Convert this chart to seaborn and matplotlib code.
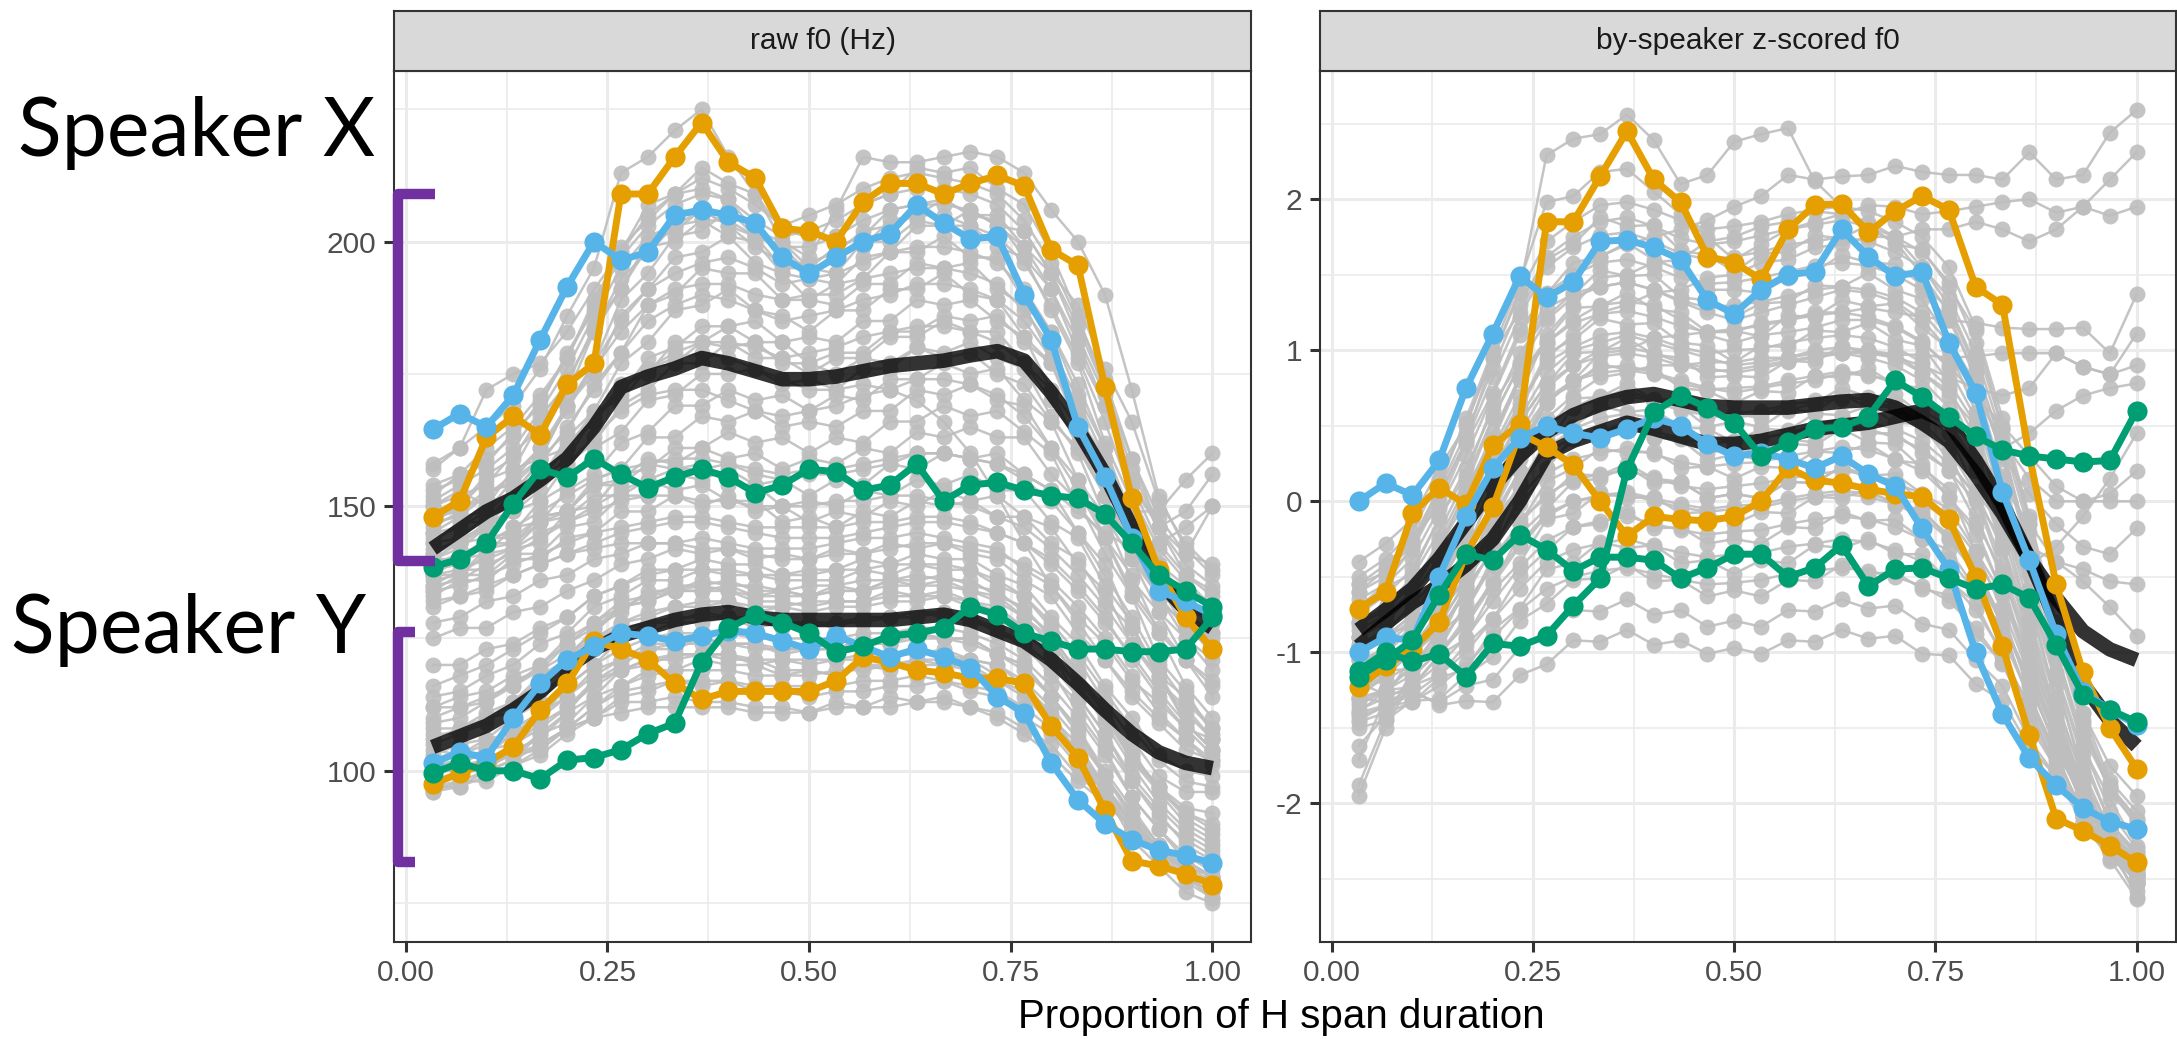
import numpy as np
import pandas as pd
import matplotlib
matplotlib.use("Agg")
import matplotlib.pyplot as plt
from matplotlib.lines import Line2D
import seaborn as sns

# ---------------------------------------------------------------- data
# normalised time points within the H span (30 samples)
PROPORTION = [0.0333, 0.0667, 0.1, 0.1333, 0.1667, 0.2, 0.2333, 0.2667, 0.3, 0.3333,
              0.3667, 0.4, 0.4333, 0.4667, 0.5, 0.5333, 0.5667, 0.6, 0.6333, 0.6667,
              0.7, 0.7333, 0.7667, 0.8, 0.8333, 0.8667, 0.9, 0.9333, 0.9667, 1.0]

PANELS = ["raw f0 (Hz)", "by-speaker z-scored f0"]

# highlighted utterances, raw f0 (Hz)
RAW_X_ORANGE = [148, 151, 163, 167, 163.5, 173, 177, 209, 209, 216, 222.5, 215, 212, 202.5, 202,
                200, 207.5, 211, 211, 209, 211, 212.5, 210.5, 198.5, 195.5, 172.5, 151.5, 138, 129, 123]
RAW_X_BLUE = [164.5, 167.5, 165, 171, 181.5, 191.5, 200, 196.5, 198, 205, 206, 205, 203.5, 197, 194,
              197, 200, 201.5, 207, 203.5, 200.5, 201, 190, 181.5, 165, 155.5, 144, 134, 132, 129.5]
RAW_X_GREEN = [138.5, 140, 143, 150.5, 157, 155.5, 159, 156, 153.5, 155.5, 157, 155.5, 152.5, 154, 157,
               156.5, 153, 154, 158, 151, 154, 154.5, 153, 152, 151.5, 148.5, 143, 137, 134, 131]
RAW_Y_ORANGE = [97.5, 99.5, 101.5, 104.5, 111.5, 116.5, 124.5, 123, 121, 116.5, 113.5, 115, 115, 115, 115,
                117, 121.5, 120.5, 119, 118.5, 117.5, 117.5, 116.5, 108.5, 102.5, 92.5, 83, 82, 80.5, 78.5]
RAW_Y_BLUE = [101.5, 103.5, 102.5, 110, 116.5, 121, 123.5, 126, 125.5, 124.5, 125.5, 126.5, 126, 124.5, 123,
              125.5, 123.5, 121.5, 123, 121.5, 119.5, 114, 111, 101.5, 94.5, 90, 87, 85, 84, 82.5]
RAW_Y_GREEN = [99.5, 101.5, 100, 100, 98.5, 102, 102.5, 104, 107, 109, 120.5, 127, 129.5, 128, 126,
               122.5, 123.5, 125.5, 126, 127, 131, 129.5, 126, 124.5, 123, 123, 122.5, 122.5, 123, 129]

# by-speaker smooths, raw f0 (Hz)
RAW_X_SMOOTH = [142, 145.5, 149, 151.5, 155, 159, 165, 172.5, 174.5, 176, 178, 177, 175.5, 174, 174,
                174.5, 175.5, 176.5, 177, 177.5, 178.5, 179.3, 177.5, 171.5, 164.5, 156, 146, 136, 130.5, 127]
RAW_Y_SMOOTH = [104.5, 106.5, 108.5, 111.5, 115, 119.5, 123, 125.5, 127, 128.5, 129.5, 130, 129, 128.5, 128.5,
                128.5, 128.5, 128.5, 129, 129.5, 128.5, 126.5, 124.5, 121, 116.5, 111.5, 107, 103.5, 101.5, 100.5]

# highlighted utterances, z-scored f0
Z_X_ORANGE = [-0.71, -0.6, -0.08, 0.09, -0.02, 0.37, 0.51, 1.85, 1.85, 2.15, 2.45, 2.13, 1.98, 1.62, 1.58,
              1.47, 1.8, 1.96, 1.97, 1.78, 1.92, 2.02, 1.93, 1.42, 1.3, 0.3, -0.55, -1.13, -1.5, -1.77]
Z_X_BLUE = [0.0, 0.12, 0.04, 0.27, 0.75, 1.11, 1.49, 1.35, 1.45, 1.72, 1.73, 1.68, 1.6, 1.33, 1.24,
            1.4, 1.5, 1.52, 1.8, 1.62, 1.49, 1.52, 1.05, 0.72, 0.06, -0.39, -0.88, -1.26, -1.38, -1.48]
Z_X_GREEN = [-1.16, -1.05, -0.92, -0.62, -0.35, -0.39, -0.22, -0.32, -0.46, -0.37, -0.37, -0.39, -0.51, -0.44, -0.35,
             -0.35, -0.5, -0.44, -0.29, -0.56, -0.45, -0.44, -0.51, -0.58, -0.55, -0.64, -0.95, -1.28, -1.38, -1.46]
Z_Y_ORANGE = [-1.23, -1.09, -0.98, -0.8, -0.35, -0.04, 0.45, 0.36, 0.24, 0.0, -0.23, -0.1, -0.12, -0.13, -0.1,
              0.0, 0.22, 0.14, 0.12, 0.08, 0.05, 0.03, -0.12, -0.5, -0.96, -1.55, -2.1, -2.18, -2.28, -2.39]
Z_Y_BLUE = [-1.0, -0.9, -0.92, -0.5, -0.1, 0.22, 0.42, 0.5, 0.45, 0.42, 0.48, 0.55, 0.5, 0.38, 0.3,
            0.32, 0.28, 0.22, 0.3, 0.18, 0.1, -0.18, -0.45, -1.0, -1.41, -1.7, -1.88, -2.03, -2.12, -2.17]
Z_Y_GREEN = [-1.12, -1.0, -1.06, -1.01, -1.16, -0.94, -0.96, -0.89, -0.69, -0.51, 0.21, 0.59, 0.7, 0.62, 0.52,
             0.3, 0.39, 0.48, 0.49, 0.56, 0.8, 0.69, 0.56, 0.43, 0.34, 0.3, 0.28, 0.26, 0.27, 0.6]

# by-speaker smooths, z-scored f0
Z_X_SMOOTH = [-0.96, -0.81, -0.67, -0.56, -0.42, -0.25, 0.0, 0.31, 0.4, 0.46, 0.52, 0.48, 0.43, 0.38, 0.38,
              0.4, 0.44, 0.48, 0.5, 0.52, 0.56, 0.6, 0.52, 0.27, -0.02, -0.38, -0.79, -1.21, -1.45, -1.62]
Z_Y_SMOOTH = [-0.85, -0.72, -0.58, -0.38, -0.14, 0.1, 0.3, 0.46, 0.57, 0.64, 0.69, 0.71, 0.67, 0.63, 0.62,
              0.62, 0.62, 0.64, 0.66, 0.67, 0.62, 0.52, 0.4, 0.18, -0.08, -0.38, -0.64, -0.86, -0.98, -1.05]

# all other utterances, raw f0 (Hz)
RAW_OTHERS = [
    [158, 161, 165, 169, 176, 186, 195, 213, 216, 221, 225, 216, 209, 200, 197, 206, 216, 215, 215, 216, 217, 216, 213, 206, 200, 190, 172, 152, 142, 137],
    [152, 156, 158, 164, 169, 179, 187, 199, 204, 209, 210, 208, 202, 200, 195, 199, 201, 206, 207, 208, 205, 205, 199, 194, 182, 171, 155, 146, 137, 134],
    [148, 150, 155, 157, 166, 171, 183, 191, 200, 202, 206, 203, 201, 195, 195, 194, 200, 200, 204, 203, 203, 199, 197, 187, 177, 162, 151, 139, 135, 130],
    [150, 153, 150, 157, 159, 169, 175, 186, 191, 197, 198, 201, 196, 194, 189, 192, 193, 198, 198, 201, 197, 197, 189, 183, 171, 161, 147, 139, 131, 128],
    [145, 146, 151, 152, 159, 164, 173, 179, 188, 190, 195, 194, 194, 189, 189, 188, 192, 192, 196, 195, 196, 191, 188, 178, 169, 155, 145, 134, 129, 125],
    [143, 147, 147, 153, 155, 163, 168, 177, 181, 187, 188, 191, 187, 186, 183, 187, 187, 191, 191, 194, 190, 189, 182, 177, 165, 156, 142, 135, 127, 124],
    [142, 143, 147, 149, 155, 159, 167, 171, 178, 180, 184, 184, 185, 181, 182, 181, 185, 185, 189, 188, 189, 185, 182, 172, 165, 152, 143, 132, 128, 122],
    [140, 143, 144, 149, 151, 158, 162, 169, 172, 177, 177, 181, 178, 178, 175, 178, 178, 182, 182, 185, 183, 183, 177, 172, 161, 152, 140, 133, 125, 121],
    [138, 140, 144, 145, 151, 154, 161, 164, 170, 171, 175, 175, 176, 173, 174, 172, 176, 176, 180, 179, 181, 178, 176, 167, 160, 148, 140, 130, 125, 119],
    [137, 140, 141, 146, 147, 153, 156, 162, 164, 169, 169, 172, 170, 171, 168, 171, 170, 174, 174, 177, 175, 176, 170, 166, 155, 148, 136, 130, 121, 117],
    [136, 137, 141, 142, 147, 149, 155, 157, 163, 163, 167, 166, 168, 165, 166, 165, 168, 168, 172, 171, 173, 170, 169, 161, 155, 144, 137, 126, 121, 114],
    [135, 138, 138, 142, 143, 149, 150, 156, 157, 161, 161, 164, 162, 163, 160, 163, 162, 166, 166, 169, 167, 168, 164, 160, 150, 144, 133, 126, 116, 110],
    [137, 137, 142, 143, 148, 149, 154, 155, 159, 158, 161, 159, 160, 157, 159, 158, 161, 160, 164, 163, 165, 163, 163, 156, 151, 141, 133, 121, 115, 107],
    [134, 137, 137, 141, 141, 146, 147, 152, 152, 156, 155, 157, 154, 155, 152, 155, 154, 158, 157, 160, 159, 160, 156, 153, 145, 139, 127, 119, 109, 104],
    [140, 140, 144, 144, 148, 149, 154, 154, 158, 157, 158, 154, 154, 150, 151, 150, 153, 152, 155, 154, 156, 153, 153, 147, 144, 135, 128, 117, 112, 106],
    [133, 136, 136, 140, 140, 144, 145, 149, 149, 152, 150, 152, 149, 150, 147, 149, 148, 151, 150, 153, 151, 152, 148, 146, 139, 134, 124, 118, 109, 104],
    [138, 139, 143, 143, 147, 148, 152, 152, 155, 153, 154, 151, 151, 147, 148, 146, 149, 148, 151, 150, 151, 148, 148, 143, 140, 132, 127, 118, 114, 108],
    [141, 144, 146, 152, 155, 162, 166, 173, 175, 181, 181, 184, 181, 181, 177, 179, 179, 183, 183, 186, 185, 186, 181, 177, 167, 159, 146, 138, 129, 126],
    [148, 149, 153, 154, 159, 161, 168, 170, 176, 177, 181, 180, 181, 177, 177, 175, 178, 177, 180, 178, 179, 175, 173, 166, 161, 152, 149, 149, 155, 160],
    [145, 148, 149, 155, 159, 169, 177, 189, 194, 201, 202, 206, 201, 199, 194, 198, 199, 204, 205, 208, 205, 204, 197, 191, 179, 169, 154, 146, 149, 156],
    [157, 161, 172, 175, 177, 183, 191, 198, 207, 209, 214, 211, 209, 202, 201, 201, 207, 209, 214, 213, 214, 210, 207, 198, 186, 172, 159, 146, 141, 150],
    [147, 150, 156, 159, 167, 173, 184, 191, 199, 200, 204, 201, 200, 194, 193, 192, 197, 198, 203, 203, 206, 203, 202, 194, 188, 176, 166, 151, 143, 138],
    [144, 146, 149, 153, 158, 165, 172, 179, 185, 188, 190, 189, 187, 185, 186, 187, 189, 190, 192, 192, 191, 189, 185, 178, 168, 157, 145, 136, 130, 126],
    [137, 138, 140, 142, 145, 147, 149, 151, 152, 152, 151, 151, 150, 150, 150, 151, 151, 152, 152, 151, 150, 148, 146, 142, 137, 131, 124, 117, 111, 106],
    [134, 135, 137, 139, 141, 143, 145, 146, 147, 148, 148, 147, 146, 146, 146, 146, 147, 147, 148, 148, 147, 145, 143, 139, 134, 128, 122, 115, 109, 104],
    [135, 136, 139, 141, 144, 147, 150, 153, 155, 157, 157, 158, 156, 155, 156, 156, 157, 158, 160, 160, 159, 158, 155, 151, 145, 137, 129, 120, 113, 108],
    [143, 144, 148, 151, 156, 161, 166, 172, 176, 179, 181, 181, 180, 178, 179, 180, 182, 183, 184, 184, 183, 181, 177, 170, 162, 152, 141, 133, 127, 123],
    [154, 156, 161, 165, 171, 178, 189, 198, 205, 209, 212, 210, 207, 203, 205, 207, 210, 212, 213, 212, 211, 209, 204, 196, 185, 174, 159, 148, 141, 139],
    [150, 152, 154, 160, 165, 174, 183, 193, 198, 203, 204, 204, 201, 199, 199, 201, 204, 206, 207, 207, 206, 203, 199, 191, 181, 169, 154, 143, 137, 133],
    [131, 133, 134, 137, 139, 141, 143, 145, 146, 147, 147, 146, 145, 144, 144, 144, 145, 146, 147, 147, 146, 145, 143, 140, 135, 129, 121, 114, 108, 103],
    [146, 149, 152, 155, 161, 168, 177, 185, 191, 194, 196, 197, 195, 192, 193, 194, 196, 198, 199, 199, 198, 196, 191, 183, 173, 161, 148, 139, 133, 129],
    [140, 142, 146, 150, 155, 161, 167, 172, 176, 178, 179, 178, 176, 174, 172, 172, 173, 172, 170, 166, 160, 152, 143, 135, 128, 121, 115, 110, 106, 102],
    [151, 154, 157, 161, 168, 176, 186, 195, 201, 203, 206, 203, 199, 196, 196, 198, 202, 203, 205, 205, 203, 201, 196, 188, 178, 166, 152, 142, 136, 131],
    [141, 143, 146, 149, 153, 158, 163, 168, 171, 172, 172, 170, 168, 167, 168, 169, 171, 172, 174, 174, 173, 171, 167, 161, 153, 144, 134, 127, 121, 116],
    [132, 133, 135, 137, 139, 141, 142, 143, 143, 143, 142, 142, 141, 140, 140, 141, 141, 142, 143, 143, 142, 141, 139, 136, 131, 125, 118, 111, 106, 101],
    [147, 148, 152, 156, 161, 169, 176, 183, 188, 191, 192, 192, 190, 189, 190, 190, 193, 194, 195, 195, 194, 192, 187, 180, 170, 159, 147, 138, 132, 128],
    [139, 141, 143, 146, 149, 152, 155, 157, 158, 159, 159, 158, 157, 156, 157, 157, 158, 159, 160, 160, 159, 158, 156, 153, 149, 145, 142, 143, 146, 150],
    [153, 155, 159, 163, 170, 178, 188, 197, 203, 207, 209, 208, 204, 201, 202, 204, 207, 209, 210, 210, 209, 207, 202, 194, 184, 172, 157, 146, 139, 135],
    [100, 102, 103, 107, 110, 116, 120, 125, 126, 128, 128, 129, 127, 128, 127, 128, 128, 129, 129, 130, 128, 127, 123, 119, 111, 104, 95, 89, 83, 80],
    [97, 97, 100, 102, 107, 111, 117, 120, 123, 123, 125, 124, 124, 123, 123, 123, 125, 124, 126, 125, 125, 122, 120, 114, 108, 99, 92, 85, 81, 78],
    [103, 105, 106, 110, 113, 119, 123, 128, 129, 131, 131, 132, 130, 131, 130, 131, 131, 132, 132, 133, 131, 130, 126, 122, 114, 107, 98, 92, 86, 83],
    [98, 99, 102, 103, 107, 109, 114, 116, 119, 119, 121, 120, 120, 118, 119, 118, 120, 120, 121, 121, 121, 118, 116, 110, 105, 97, 90, 83, 80, 77],
    [105, 107, 109, 113, 116, 122, 126, 131, 132, 134, 134, 135, 133, 134, 133, 134, 134, 136, 135, 136, 134, 133, 129, 125, 117, 111, 102, 96, 90, 87],
    [101, 101, 104, 105, 109, 112, 117, 119, 121, 121, 122, 121, 121, 119, 119, 118, 120, 119, 121, 120, 120, 117, 115, 109, 104, 97, 91, 85, 82, 80],
    [96, 98, 98, 101, 103, 107, 110, 114, 115, 117, 116, 117, 115, 115, 114, 115, 115, 116, 116, 117, 115, 114, 110, 107, 101, 96, 89, 85, 80, 76],
    [108, 108, 111, 113, 118, 121, 127, 130, 134, 134, 136, 135, 135, 134, 135, 135, 136, 136, 137, 136, 136, 133, 131, 125, 119, 111, 104, 96, 92, 89],
    [110, 112, 113, 117, 119, 124, 127, 131, 132, 134, 134, 134, 132, 132, 131, 132, 132, 134, 133, 134, 132, 131, 127, 123, 116, 110, 102, 97, 93, 92],
    [114, 115, 118, 120, 124, 126, 131, 133, 136, 136, 138, 137, 137, 136, 136, 136, 138, 137, 139, 138, 138, 135, 133, 127, 121, 113, 106, 99, 96, 96],
    [99, 101, 101, 103, 104, 108, 110, 113, 113, 114, 113, 113, 112, 112, 111, 113, 112, 114, 113, 114, 112, 111, 108, 105, 99, 95, 89, 86, 81, 78],
    [120, 120, 123, 124, 127, 129, 133, 135, 138, 138, 140, 139, 139, 137, 138, 138, 140, 139, 141, 140, 140, 137, 135, 129, 124, 116, 110, 103, 100, 99],
    [125, 127, 127, 130, 131, 134, 136, 139, 140, 142, 141, 142, 140, 141, 140, 142, 141, 143, 142, 143, 141, 140, 136, 133, 126, 121, 114, 109, 104, 102],
    [104, 103, 106, 107, 111, 114, 119, 121, 124, 124, 125, 124, 124, 122, 123, 123, 124, 124, 126, 125, 125, 122, 120, 114, 108, 100, 93, 86, 83, 80],
    [112, 114, 115, 118, 120, 125, 128, 132, 133, 135, 135, 136, 134, 134, 133, 135, 134, 136, 136, 137, 135, 134, 130, 126, 118, 112, 103, 97, 91, 88],
    [107, 107, 110, 111, 115, 118, 123, 125, 128, 128, 130, 129, 129, 127, 128, 127, 129, 129, 130, 129, 129, 126, 124, 118, 113, 105, 98, 91, 87, 84],
    [98, 100, 100, 104, 106, 111, 114, 119, 120, 122, 122, 122, 120, 121, 120, 121, 121, 122, 122, 123, 121, 120, 116, 111, 103, 96, 87, 82, 77, 75],
    [128, 129, 132, 133, 136, 137, 140, 141, 143, 143, 144, 143, 142, 142, 142, 143, 144, 144, 145, 144, 143, 142, 138, 135, 129, 124, 117, 113, 108, 106],
    [97, 98, 100, 102, 105, 108, 112, 115, 116, 117, 117, 117, 116, 116, 116, 116, 117, 117, 118, 117, 116, 115, 112, 108, 102, 96, 90, 85, 81, 78],
    [99, 101, 102, 105, 108, 112, 116, 119, 121, 122, 122, 122, 121, 121, 121, 121, 122, 122, 123, 122, 121, 120, 117, 112, 106, 99, 92, 86, 82, 79],
    [102, 103, 105, 108, 111, 116, 120, 123, 125, 126, 126, 126, 125, 125, 125, 125, 126, 126, 127, 127, 126, 124, 121, 116, 110, 103, 95, 89, 84, 81],
    [106, 108, 110, 113, 117, 121, 125, 128, 130, 131, 132, 132, 131, 131, 132, 132, 132, 133, 133, 133, 132, 130, 127, 122, 116, 109, 101, 94, 89, 86],
    [116, 118, 120, 123, 126, 129, 133, 135, 137, 138, 138, 138, 137, 137, 137, 138, 138, 139, 139, 139, 138, 136, 133, 128, 122, 115, 108, 102, 98, 97],
    [100, 100, 102, 103, 105, 108, 110, 111, 112, 112, 112, 112, 111, 111, 111, 112, 112, 112, 113, 113, 112, 110, 107, 103, 98, 94, 89, 85, 82, 80],
    [112, 112, 114, 116, 119, 122, 125, 127, 128, 129, 129, 129, 128, 128, 128, 128, 129, 129, 130, 130, 129, 127, 124, 120, 114, 107, 99, 93, 88, 85],
    [109, 110, 113, 116, 120, 124, 128, 131, 133, 134, 135, 134, 133, 133, 133, 134, 134, 135, 135, 135, 134, 132, 129, 124, 118, 111, 103, 97, 92, 90],
    [96, 97, 99, 101, 104, 108, 112, 116, 118, 119, 119, 119, 118, 118, 118, 119, 119, 120, 120, 120, 119, 117, 114, 109, 103, 97, 90, 84, 80, 77],
    [101, 102, 104, 107, 110, 114, 118, 121, 123, 124, 124, 124, 123, 123, 123, 123, 124, 124, 125, 125, 124, 122, 119, 114, 107, 99, 91, 84, 79, 76],
]

# all other utterances, z-scored f0
Z_OTHERS = [
    [-0.6, -0.45, -0.3, 0.05, 0.4, 0.95, 1.4, 2.29, 2.4, 2.43, 2.56, 2.39, 2.1, 2.16, 2.38, 2.43, 2.47, 2.12, 1.95, 1.8, 1.72, 1.5, 1.25, 0.8, 0.3, -0.3, -0.95, -1.4, -1.75, -1.95],
    [-0.9, -0.75, -0.6, -0.25, 0.1, 0.55, 0.9, 1.35, 1.5, 1.62, 1.7, 1.75, 1.8, 1.86, 1.95, 2.02, 2.16, 2.13, 2.15, 2.16, 2.22, 2.18, 2.16, 2.16, 2.13, 2.31, 2.13, 2.16, 2.44, 2.59],
    [-1.1, -0.95, -0.8, -0.45, -0.1, 0.35, 0.7, 1.1, 1.3, 1.48, 1.5, 1.58, 1.6, 1.72, 1.75, 1.82, 1.85, 1.92, 1.9, 1.96, 1.95, 1.9, 1.92, 1.95, 1.98, 2.0, 1.91, 1.95, 1.89, 1.95],
    [-1.2, -1.05, -0.9, -0.55, -0.2, 0.25, 0.6, 0.95, 1.1, 1.25, 1.3, 1.38, 1.4, 1.48, 1.5, 1.58, 1.6, 1.68, 1.7, 1.75, 1.75, 1.8, 1.8, 1.85, 1.8, 1.72, 1.8, 1.95, 2.13, 2.31],
    [-1.3, -1.15, -1.0, -0.75, -0.5, -0.05, 0.3, 0.65, 0.8, 0.98, 1.0, 1.08, 1.1, 1.12, 1.12, 1.18, 1.2, 1.25, 1.25, 1.28, 1.25, 1.22, 1.2, 1.18, 1.15, 1.14, 1.14, 1.15, 0.98, 1.37],
    [-1.4, -1.25, -1.1, -0.85, -0.6, -0.15, 0.2, 0.55, 0.7, 0.82, 0.85, 0.9, 0.9, 0.92, 0.92, 0.95, 0.95, 0.98, 0.98, 1.0, 0.97, 0.97, 0.95, 0.96, 0.98, 0.98, 0.98, 0.89, 0.84, 0.9],
    [-0.9, -0.8, -0.6, -0.3, 0.0, 0.4, 0.8, 1.05, 1.2, 1.3, 1.32, 1.3, 1.2, 1.1, 1.05, 1.1, 1.12, 1.15, 1.2, 1.2, 1.15, 1.05, 0.9, 0.7, 0.5, 0.3, 0.1, 0.0, 0.05, 0.2],
    [-1.0, -0.9, -0.75, -0.5, -0.2, 0.2, 0.55, 0.85, 1.0, 1.05, 1.1, 1.05, 1.0, 0.95, 0.9, 0.92, 0.95, 1.0, 1.02, 1.0, 0.95, 0.85, 0.7, 0.5, 0.3, 0.05, -0.15, -0.3, -0.35, -0.18],
    [-1.1, -1.0, -0.85, -0.6, -0.35, 0.0, 0.35, 0.65, 0.8, 0.88, 0.9, 0.85, 0.8, 0.75, 0.72, 0.75, 0.78, 0.8, 0.85, 0.83, 0.8, 0.7, 0.55, 0.35, 0.1, -0.15, -0.4, -0.53, -0.7, -0.89],
    [-0.4, -0.28, -0.12, 0.22, 0.5, 0.98, 1.25, 1.6, 1.7, 1.88, 1.82, 1.83, 1.66, 1.63, 1.52, 1.64, 1.65, 1.76, 1.74, 1.83, 1.7, 1.67, 1.42, 1.13, 0.48, -0.12, -0.88, -1.47, -1.93, -2.12],
    [-0.55, -0.47, -0.26, -0.03, 0.38, 0.72, 1.14, 1.37, 1.58, 1.62, 1.71, 1.6, 1.53, 1.4, 1.4, 1.38, 1.48, 1.52, 1.63, 1.58, 1.57, 1.43, 1.28, 0.87, 0.38, -0.33, -0.97, -1.63, -1.97, -2.28],
    [-0.7, -0.57, -0.48, -0.11, 0.17, 0.64, 0.92, 1.28, 1.37, 1.53, 1.49, 1.5, 1.35, 1.33, 1.22, 1.31, 1.32, 1.43, 1.42, 1.51, 1.4, 1.34, 1.07, 0.78, 0.17, -0.42, -1.13, -1.67, -2.13, -2.32],
    [-0.8, -0.73, -0.52, -0.33, 0.08, 0.42, 0.83, 1.07, 1.28, 1.29, 1.38, 1.27, 1.25, 1.12, 1.13, 1.09, 1.23, 1.22, 1.33, 1.29, 1.31, 1.15, 1.01, 0.59, 0.13, -0.58, -1.17, -1.83, -2.17, -2.48],
    [-0.85, -0.75, -0.63, -0.37, -0.08, 0.33, 0.62, 0.98, 1.07, 1.21, 1.17, 1.18, 1.05, 1.03, 0.92, 1.03, 1.02, 1.13, 1.12, 1.18, 1.07, 1.03, 0.79, 0.51, -0.08, -0.62, -1.33, -1.82, -2.28, -2.52],
    [-0.95, -0.88, -0.67, -0.53, -0.12, 0.17, 0.53, 0.77, 0.98, 0.99, 1.08, 0.97, 0.95, 0.82, 0.83, 0.82, 0.93, 0.92, 1.03, 0.97, 0.98, 0.85, 0.73, 0.32, -0.12, -0.78, -1.32, -1.93, -2.27, -2.62],
    [-1.0, -0.87, -0.83, -0.57, -0.33, 0.08, 0.35, 0.68, 0.77, 0.91, 0.87, 0.88, 0.75, 0.73, 0.65, 0.73, 0.72, 0.83, 0.82, 0.88, 0.77, 0.75, 0.52, 0.25, -0.28, -0.82, -1.43, -1.87, -2.28, -2.42],
    [-1.05, -1.01, -0.82, -0.68, -0.37, -0.08, 0.28, 0.47, 0.68, 0.69, 0.78, 0.67, 0.68, 0.55, 0.58, 0.55, 0.65, 0.65, 0.75, 0.69, 0.71, 0.57, 0.45, 0.07, -0.32, -0.93, -1.42, -1.98, -2.27, -2.53],
    [-1.15, -1.02, -0.98, -0.72, -0.53, -0.12, 0.09, 0.41, 0.49, 0.63, 0.59, 0.61, 0.49, 0.48, 0.39, 0.48, 0.47, 0.58, 0.57, 0.63, 0.52, 0.51, 0.27, 0.03, -0.48, -0.97, -1.53, -1.92, -2.33, -2.52],
    [-1.2, -1.13, -0.97, -0.88, -0.57, -0.33, 0.03, 0.22, 0.41, 0.42, 0.51, 0.42, 0.43, 0.32, 0.35, 0.32, 0.41, 0.39, 0.51, 0.45, 0.45, 0.32, 0.21, -0.13, -0.47, -1.03, -1.47, -1.93, -2.17, -2.43],
    [-1.25, -1.12, -1.11, -0.87, -0.73, -0.37, -0.15, 0.13, 0.22, 0.35, 0.32, 0.33, 0.22, 0.23, 0.15, 0.23, 0.22, 0.33, 0.32, 0.38, 0.27, 0.25, 0.02, -0.17, -0.61, -1.02, -1.58, -1.92, -2.28, -2.42],
    [-1.3, -1.25, -1.09, -1.01, -0.77, -0.55, -0.22, -0.05, 0.13, 0.15, 0.23, 0.12, 0.13, 0.02, 0.05, 0.02, 0.13, 0.12, 0.23, 0.17, 0.18, 0.05, -0.05, -0.33, -0.62, -1.13, -1.52, -1.98, -2.17, -2.38],
    [-1.35, -1.25, -1.23, -1.02, -0.91, -0.59, -0.41, -0.12, -0.08, 0.06, 0.02, 0.03, -0.08, -0.07, -0.15, -0.07, -0.08, 0.03, 0.02, 0.08, -0.03, -0.05, -0.25, -0.42, -0.81, -1.17, -1.65, -1.97, -2.28, -2.37],
    [-1.4, -1.35, -1.22, -1.15, -0.95, -0.78, -0.49, -0.33, -0.17, -0.15, -0.07, -0.18, -0.17, -0.28, -0.25, -0.28, -0.17, -0.18, -0.07, -0.13, -0.12, -0.25, -0.32, -0.58, -0.85, -1.31, -1.67, -2.08, -2.27, -2.48],
    [-1.45, -1.35, -1.33, -1.17, -1.11, -0.85, -0.71, -0.45, -0.41, -0.27, -0.31, -0.29, -0.41, -0.39, -0.48, -0.39, -0.41, -0.29, -0.31, -0.25, -0.35, -0.35, -0.53, -0.67, -1.03, -1.35, -1.78, -2.07, -2.38, -2.47],
    [-1.5, -1.45, -1.32, -1.31, -1.15, -1.03, -0.79, -0.68, -0.52, -0.51, -0.42, -0.53, -0.52, -0.63, -0.59, -0.63, -0.52, -0.53, -0.42, -0.48, -0.47, -0.58, -0.62, -0.88, -1.07, -1.48, -1.77, -2.13, -2.27, -2.43],
    [-1.3, -1.33, -1.27, -1.33, -1.22, -1.18, -0.97, -0.88, -0.72, -0.73, -0.65, -0.75, -0.72, -0.83, -0.79, -0.83, -0.72, -0.73, -0.65, -0.71, -0.69, -0.81, -0.85, -1.05, -1.22, -1.58, -1.82, -2.13, -2.27, -2.48],
    [-1.2, -1.28, -1.25, -1.35, -1.32, -1.33, -1.15, -1.08, -0.92, -0.93, -0.85, -0.95, -0.92, -1.01, -0.97, -1.01, -0.92, -0.93, -0.85, -0.91, -0.89, -1.01, -1.02, -1.21, -1.32, -1.63, -1.82, -2.08, -2.17, -2.33],
    [-1.95, -1.5, -1.17, -0.98, -0.67, -0.43, -0.12, 0.02, 0.18, 0.17, 0.25, 0.15, 0.13, 0.02, 0.05, 0.02, 0.13, 0.12, 0.23, 0.15, 0.15, -0.01, -0.12, -0.48, -0.82, -1.33, -1.72, -2.13, -2.37, -2.63],
    [-1.88, -1.45, -1.12, -0.93, -0.57, -0.33, 0.03, 0.22, 0.43, 0.45, 0.53, 0.42, 0.41, 0.27, 0.31, 0.27, 0.38, 0.37, 0.48, 0.39, 0.38, 0.22, 0.08, -0.33, -0.72, -1.28, -1.67, -2.08, -2.32, -2.58],
    [-1.71, -1.3, -1.02, -0.83, -0.52, -0.28, 0.13, 0.37, 0.63, 0.67, 0.75, 0.65, 0.63, 0.49, 0.53, 0.49, 0.61, 0.59, 0.71, 0.62, 0.63, 0.47, 0.33, -0.08, -0.52, -1.13, -1.57, -2.03, -2.27, -2.53],
    [-1.0, -0.9, -0.75, -0.55, -0.25, 0.1, 0.45, 0.75, 0.9, 1.0, 1.02, 0.98, 0.92, 0.88, 0.85, 0.88, 0.92, 0.95, 0.98, 0.98, 0.95, 0.9, 0.82, 0.75, 0.7, 0.75, 0.98, 0.89, 0.84, 1.11],
    [-1.15, -1.05, -0.9, -0.7, -0.45, -0.1, 0.2, 0.5, 0.62, 0.7, 0.72, 0.68, 0.62, 0.58, 0.55, 0.58, 0.6, 0.65, 0.68, 0.68, 0.65, 0.6, 0.5, 0.4, 0.35, 0.45, 0.6, 0.7, 0.75, 0.78],
    [-1.25, -1.15, -1.0, -0.8, -0.55, -0.2, 0.1, 0.35, 0.48, 0.55, 0.58, 0.55, 0.48, 0.42, 0.4, 0.42, 0.45, 0.5, 0.55, 0.52, 0.48, 0.4, 0.25, 0.05, -0.15, -0.3, -0.4, -0.45, -0.53, -0.55],
    [-0.8, -0.7, -0.5, -0.2, 0.15, 0.55, 0.9, 1.2, 1.35, 1.42, 1.45, 1.4, 1.32, 1.25, 1.2, 1.25, 1.3, 1.35, 1.4, 1.38, 1.32, 1.2, 1.0, 0.7, 0.4, 0.15, 0.0, 0.0, 0.0, 0.0],
    [-0.7, -0.55, -0.3, 0.1, 0.55, 1.0, 1.45, 1.98, 2.02, 2.18, 2.2, 2.05, 1.9, 1.75, 1.6, 1.7, 1.8, 1.85, 1.9, 1.85, 1.75, 1.55, 1.3, 0.9, 0.35, -0.3, -1.0, -1.55, -1.9, -2.1],
    [-0.5, -0.38, -0.2, 0.15, 0.52, 0.95, 1.38, 1.72, 1.85, 1.96, 1.98, 1.93, 1.86, 1.8, 1.82, 1.85, 1.9, 1.93, 1.95, 1.92, 1.85, 1.75, 1.55, 1.15, 0.55, -0.1, -0.8, -1.4, -1.85, -2.05],
    [-0.75, -0.62, -0.45, -0.12, 0.22, 0.6, 0.98, 1.22, 1.38, 1.42, 1.45, 1.4, 1.33, 1.28, 1.3, 1.32, 1.36, 1.4, 1.42, 1.4, 1.35, 1.25, 1.05, 0.7, 0.15, -0.48, -1.15, -1.72, -2.12, -2.35],
    [-0.9, -0.8, -0.62, -0.4, -0.05, 0.32, 0.65, 0.92, 1.02, 1.1, 1.12, 1.08, 1.02, 0.98, 1.0, 1.01, 1.05, 1.08, 1.1, 1.08, 1.02, 0.92, 0.75, 0.42, -0.08, -0.7, -1.3, -1.85, -2.22, -2.48],
    [-1.0, -0.92, -0.78, -0.55, -0.25, 0.1, 0.42, 0.68, 0.8, 0.85, 0.87, 0.84, 0.78, 0.74, 0.75, 0.76, 0.8, 0.83, 0.86, 0.84, 0.78, 0.7, 0.52, 0.2, -0.3, -0.88, -1.45, -1.92, -2.25, -2.5],
    [-1.2, -1.12, -1.02, -0.85, -0.62, -0.3, -0.02, 0.18, 0.28, 0.32, 0.35, 0.31, 0.26, 0.23, 0.25, 0.26, 0.3, 0.33, 0.36, 0.34, 0.28, 0.2, 0.03, -0.22, -0.6, -1.08, -1.55, -1.95, -2.22, -2.4],
    [-1.32, -1.25, -1.15, -1.0, -0.82, -0.55, -0.3, -0.1, 0.0, 0.03, 0.05, 0.0, -0.04, -0.07, -0.05, -0.04, 0.0, 0.03, 0.05, 0.03, -0.02, -0.1, -0.25, -0.48, -0.8, -1.22, -1.62, -1.98, -2.2, -2.35],
    [-1.42, -1.36, -1.28, -1.15, -1.0, -0.78, -0.58, -0.4, -0.32, -0.28, -0.25, -0.3, -0.34, -0.37, -0.35, -0.34, -0.3, -0.28, -0.25, -0.27, -0.32, -0.4, -0.52, -0.72, -1.0, -1.38, -1.75, -2.08, -2.3, -2.45],
    [-0.6, -0.5, -0.32, 0.02, 0.4, 0.82, 1.22, 1.55, 1.68, 1.76, 1.78, 1.72, 1.64, 1.6, 1.62, 1.65, 1.7, 1.72, 1.75, 1.72, 1.65, 1.55, 1.35, 0.98, 0.42, -0.2, -0.9, -1.5, -1.9, -2.15],
    [-0.65, -0.55, -0.38, -0.05, 0.3, 0.7, 1.1, 1.38, 1.5, 1.58, 1.6, 1.55, 1.48, 1.44, 1.45, 1.48, 1.52, 1.56, 1.58, 1.56, 1.5, 1.4, 1.2, 0.85, 0.28, -0.35, -1.05, -1.62, -2.05, -2.3],
    [-0.82, -0.72, -0.55, -0.28, 0.05, 0.45, 0.82, 1.05, 1.18, 1.24, 1.26, 1.22, 1.16, 1.12, 1.14, 1.16, 1.2, 1.23, 1.25, 1.22, 1.16, 1.06, 0.88, 0.55, 0.02, -0.6, -1.22, -1.78, -2.18, -2.42],
    [-0.95, -0.85, -0.7, -0.47, -0.15, 0.2, 0.52, 0.78, 0.9, 0.96, 0.98, 0.95, 0.9, 0.86, 0.87, 0.9, 0.93, 0.96, 0.98, 0.95, 0.9, 0.8, 0.62, 0.3, -0.2, -0.8, -1.4, -1.9, -2.25, -2.5],
    [-1.05, -0.98, -0.85, -0.62, -0.35, -0.02, 0.3, 0.52, 0.62, 0.68, 0.7, 0.66, 0.6, 0.57, 0.58, 0.6, 0.64, 0.67, 0.7, 0.67, 0.62, 0.52, 0.35, 0.05, -0.42, -0.95, -1.48, -1.95, -2.28, -2.52],
    [-1.25, -1.18, -1.08, -0.92, -0.72, -0.42, -0.15, 0.05, 0.14, 0.18, 0.2, 0.16, 0.1, 0.08, 0.1, 0.12, 0.15, 0.18, 0.2, 0.18, 0.12, 0.05, -0.12, -0.35, -0.7, -1.15, -1.58, -1.97, -2.22, -2.38],
    [-1.38, -1.3, -1.22, -1.08, -0.9, -0.66, -0.44, -0.26, -0.17, -0.13, -0.1, -0.15, -0.19, -0.22, -0.2, -0.19, -0.15, -0.12, -0.1, -0.12, -0.17, -0.25, -0.38, -0.6, -0.9, -1.3, -1.7, -2.05, -2.28, -2.42],
    [-1.46, -1.4, -1.33, -1.22, -1.08, -0.9, -0.72, -0.58, -0.5, -0.46, -0.44, -0.48, -0.52, -0.55, -0.54, -0.52, -0.48, -0.46, -0.44, -0.46, -0.5, -0.56, -0.66, -0.84, -1.08, -1.42, -1.78, -2.1, -2.32, -2.46],
    [-1.12, -1.05, -0.95, -0.75, -0.5, -0.18, 0.12, 0.33, 0.42, 0.47, 0.5, 0.46, 0.42, 0.38, 0.4, 0.42, 0.45, 0.48, 0.5, 0.48, 0.42, 0.35, 0.2, 0.0, -0.25, -0.42, -0.3, -0.1, 0.15, 0.45],
    [-0.55, -0.42, -0.25, 0.08, 0.45, 0.88, 1.3, 1.62, 1.75, 1.85, 1.88, 1.82, 1.74, 1.7, 1.72, 1.76, 1.8, 1.83, 1.86, 1.82, 1.75, 1.65, 1.45, 1.05, 0.48, -0.15, -0.85, -1.45, -1.88, -2.1],
    [-1.62, -1.42, -1.22, -1.02, -0.8, -0.52, -0.28, -0.08, 0.0, 0.04, 0.06, 0.02, -0.02, -0.05, -0.03, -0.02, 0.02, 0.05, 0.07, 0.05, 0.0, -0.08, -0.22, -0.45, -0.78, -1.2, -1.62, -2.0, -2.25, -2.45],
]

Y_TICKS = [[100, 150, 200], [-2, -1, 0, 1, 2]]
Y_MINOR = [[75, 125, 175, 225], [-2.5, -1.5, -0.5, 0.5, 1.5, 2.5]]
Y_LIMITS = [(67.7, 232.3), (-2.915, 2.85)]
X_TICKS = [0.0, 0.25, 0.5, 0.75, 1.0]
X_MINOR = [0.125, 0.375, 0.625, 0.875]

ORANGE, BLUE, GREEN = "#E69F00", "#56B4E9", "#009E73"
GREY = "#BEBEBE"
PURPLE = "#7030A0"

# ---------------------------------------------------------------- figure
sns.set_theme(style="white")
plt.rcParams["font.family"] = ["Liberation Sans", "DejaVu Sans"]

W, H = 2177, 1039
fig = plt.figure(figsize=(W / 100, H / 100), dpi=100)
fig.patch.set_facecolor("white")


def fx(px):
    return px / W


def fy(py):
    return 1 - py / H


panel_boxes = [(393.7, 1251.4), (1319.8, 2175.5)]
top, bottom, strip_top = 70.7, 941.7, 10.5


def long_frame(rows):
    recs = []
    for i, row in enumerate(rows):
        for t, v in zip(PROPORTION, row):
            recs.append({"utt": i, "t": t, "f0": v})
    return pd.DataFrame(recs)


others = [long_frame(RAW_OTHERS), long_frame(Z_OTHERS)]
highlights = [
    [(RAW_X_ORANGE, ORANGE), (RAW_Y_ORANGE, ORANGE), (RAW_X_BLUE, BLUE), (RAW_Y_BLUE, BLUE),
     (RAW_X_GREEN, GREEN), (RAW_Y_GREEN, GREEN)],
    [(Z_X_ORANGE, ORANGE), (Z_Y_ORANGE, ORANGE), (Z_X_BLUE, BLUE), (Z_Y_BLUE, BLUE),
     (Z_X_GREEN, GREEN), (Z_Y_GREEN, GREEN)],
]
smooths = [[RAW_X_SMOOTH, RAW_Y_SMOOTH], [Z_X_SMOOTH, Z_Y_SMOOTH]]

for p, (x0, x1) in enumerate(panel_boxes):
    ax = fig.add_axes([fx(x0), fy(bottom), fx(x1 - x0), (bottom - top) / H])
    ax.set_facecolor("white")

    sns.lineplot(data=others[p], x="t", y="f0", units="utt", estimator=None, sort=False,
                 color=GREY, alpha=0.9, lw=1.8, marker="o", markersize=11.5,
                 markeredgewidth=0, legend=False, ax=ax, zorder=2)

    for s in smooths[p]:
        sns.lineplot(x=PROPORTION, y=s, color="black", alpha=0.8, lw=10.5,
                     solid_capstyle="butt", ax=ax, zorder=3)

    for vals, col in highlights[p]:
        sns.lineplot(x=PROPORTION, y=vals, color=col, lw=5.0, marker="o", markersize=14.5,
                     markeredgewidth=0, ax=ax, zorder=4)

    ax.set_xlim(-0.015, 1.0483)
    ax.set_ylim(*Y_LIMITS[p])
    ax.set_xticks(X_TICKS)
    ax.set_xticks(X_MINOR, minor=True)
    ax.set_yticks(Y_TICKS[p])
    ax.set_yticks(Y_MINOR[p], minor=True)
    ax.set_xticklabels(["0.00", "0.25", "0.50", "0.75", "1.00"])
    ax.set_yticklabels([str(v) for v in Y_TICKS[p]])
    ax.grid(True, which="major", color="#EBEBEB", lw=2.2, zorder=0)
    ax.grid(True, which="minor", color="#EBEBEB", lw=1.2, zorder=0)
    ax.set_axisbelow(True)
    ax.tick_params(axis="both", which="major", length=7.5, width=2.2, color="#333333",
                   labelsize=21.5, labelcolor="#4D4D4D", pad=5, direction="out")
    ax.tick_params(axis="both", which="minor", length=0)
    ax.tick_params(axis="x", bottom=True)
    ax.tick_params(axis="y", left=True)
    ax.set_xlabel("")
    ax.set_ylabel("")
    for sp in ax.spines.values():
        sp.set_color("#333333")
        sp.set_linewidth(1.5)
        sp.set_zorder(6)

    # facet strip
    sax = fig.add_axes([fx(x0), fy(top), fx(x1 - x0), (top - strip_top) / H])
    sax.set_facecolor("#D9D9D9")
    sax.set_xticks([])
    sax.set_yticks([])
    for sp in sax.spines.values():
        sp.set_color("#333333")
        sp.set_linewidth(1.5)
    sax.text(0.5, 0.5, PANELS[p], transform=sax.transAxes, ha="center", va="center",
             fontsize=21.5, color="#1A1A1A")

fig.text(fx(1281), fy(1028), "Proportion of H span duration", ha="center", va="baseline",
         fontsize=29, color="black")

# speaker labels and brackets
fig.text(fx(18), fy(156), "Speaker X", ha="left", va="baseline", fontsize=58,
         family=["Lato", "DejaVu Sans"], color="black")
fig.text(fx(11), fy(653), "Speaker Y", ha="left", va="baseline", fontsize=58,
         family=["Lato", "DejaVu Sans"], color="black")

for xs, ys in [([434.5, 397.5, 397.5, 434.5], [194, 194, 561, 561]),
               ([414.5, 397.5, 397.5, 414.5], [632, 632, 862, 862])]:
    fig.add_artist(Line2D([fx(v) for v in xs], [fy(v) for v in ys], transform=fig.transFigure,
                          color=PURPLE, lw=7.5, solid_joinstyle="round", solid_capstyle="butt",
                          zorder=10))

fig.savefig("out.png", dpi=100, facecolor="white")
